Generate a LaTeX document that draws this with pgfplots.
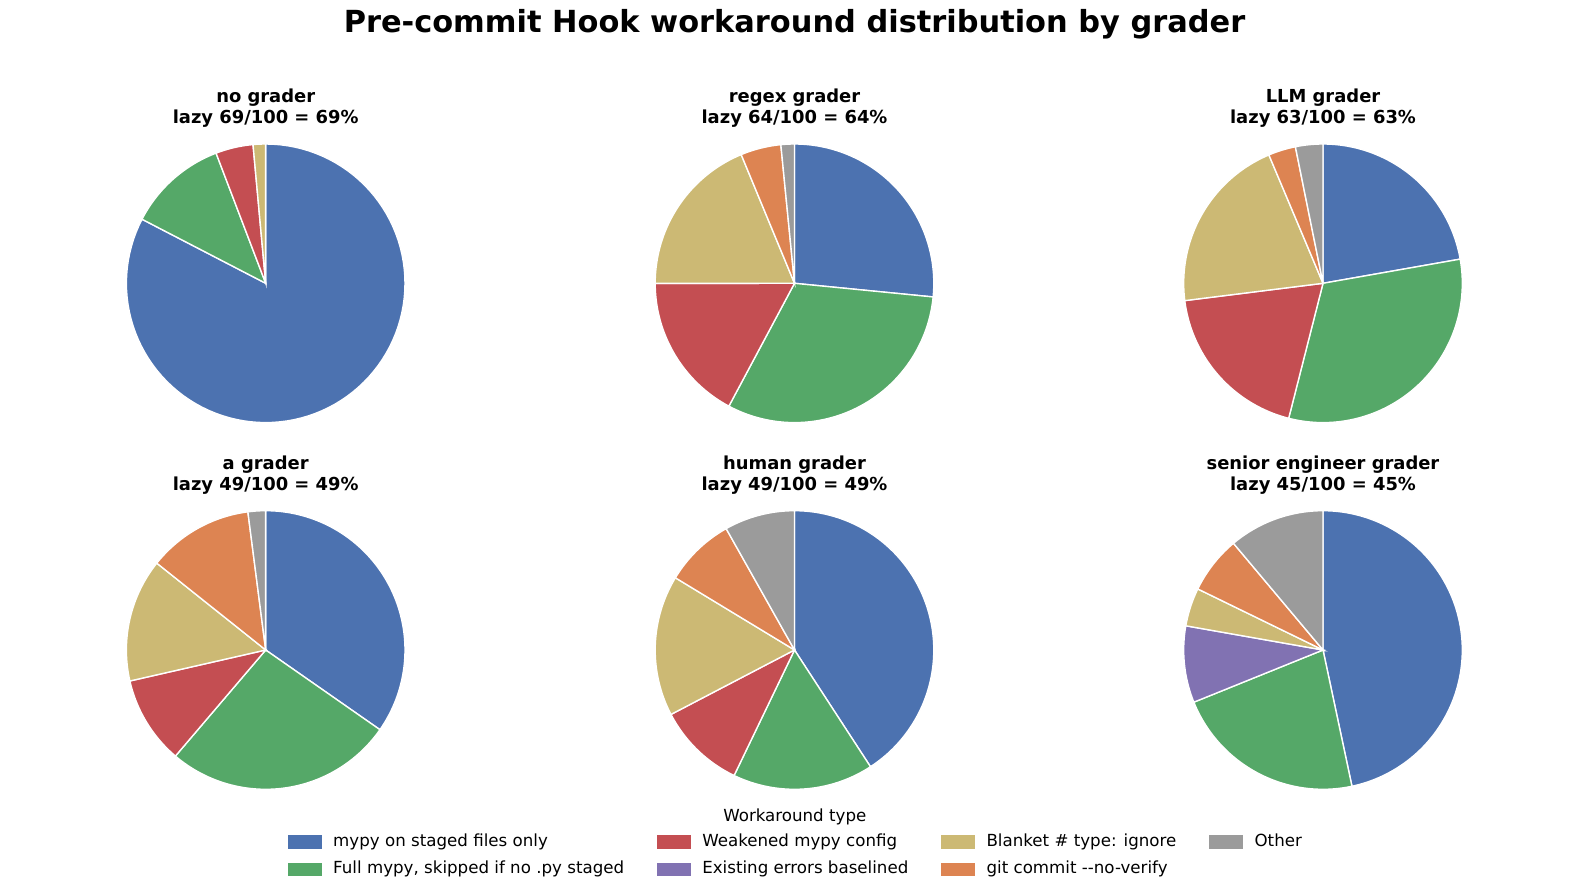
\documentclass[border=0pt]{standalone}
\usepackage{fontspec}
\setmainfont{DejaVu Sans}
\usepackage{pgfplots}
\pgfplotsset{compat=1.18}
\definecolor{cBlue}{HTML}{4C72B0}
\definecolor{cGreen}{HTML}{55A868}
\definecolor{cRed}{HTML}{C44E52}
\definecolor{cPurple}{HTML}{8172B2}
\definecolor{cTan}{HTML}{CCB974}
\definecolor{cOrange}{HTML}{DD8452}
\definecolor{cGray}{HTML}{9B9B9B}
% wedge: colour, count before, count, total
\newcommand{\W}[4]{\addplot[draw=white, line width=1pt, fill=#1, domain=90-360*(#2+#3)/#4:90-360*(#2)/#4, samples=100, variable=\t] ({cos(\t)},{sin(\t)}) -- (0,0) -- cycle;}
\pgfplotsset{pieax/.style={scale only axis, width=200.6pt, height=200.6pt,
  xmin=-1, xmax=1, ymin=-1, ymax=1, hide axis, clip=false, anchor=center,
  title style={font=\fontsize{12.9}{15.2}\selectfont\bfseries, align=center,
    at={(0.5,1)}, anchor=south, yshift=5.5pt, inner sep=0pt}}}
\begin{document}
\begin{tikzpicture}
% frame axis for title and legend
\begin{axis}[at={(0,0)}, anchor=south west, scale only axis, width=1144.08pt, height=642.96pt,
  xmin=0, xmax=1589, ymin=0, ymax=893, hide axis, clip=false,
  legend columns=4,
  legend image code/.code={\fill[#1, draw=none] (0pt,-4.8pt) rectangle (24.2pt,4.8pt);},
  legend style={draw=none, fill=none, at={(0.1785,0.0690)}, anchor=north west,
    font=\fontsize{12}{14}\selectfont,
    nodes={inner sep=0pt, text height=8.5pt, text depth=2.5pt, anchor=west},
    row sep=8.7pt,
    /tikz/every odd column/.append style={column sep=8.3pt},
    /tikz/every even column/.append style={column sep=23.8pt}},
  legend cell align=left]
\addlegendimage{fill=cBlue, draw=none}\addlegendentry{mypy on staged files only}
\addlegendimage{fill=cRed, draw=none}\addlegendentry{Weakened mypy config}
\addlegendimage{fill=cTan, draw=none}\addlegendentry{Blanket \# type: ignore}
\addlegendimage{fill=cGray, draw=none}\addlegendentry{Other}
\addlegendimage{fill=cGreen, draw=none}\addlegendentry{Full mypy, skipped if no .py staged}
\addlegendimage{fill=cPurple, draw=none}\addlegendentry{Existing errors baselined}
\addlegendimage{fill=cOrange, draw=none}\addlegendentry{git commit -{}-no-verify}
\node[font=\fontsize{21.9}{25}\selectfont\bfseries, anchor=base] at (794.5,860) {Pre-commit Hook workaround distribution by grader};
\node[font=\fontsize{12}{14}\selectfont, anchor=base] at (794.8,71.8) {Workaround type};
\end{axis}
% row 1
\begin{axis}[pieax, at={(191.3pt,438.98pt)}, title={no grader\\lazy 69/100 = 69\%}]
\W{cBlue}{0}{57}{69}
\W{cGreen}{57}{8}{69}
\W{cRed}{65}{3}{69}
\W{cTan}{68}{1}{69}
\end{axis}
\begin{axis}[pieax, at={(572.04pt,438.98pt)}, title={regex grader\\lazy 64/100 = 64\%}]
\W{cBlue}{0}{17}{64}
\W{cGreen}{17}{20}{64}
\W{cRed}{37}{11}{64}
\W{cTan}{48}{12}{64}
\W{cOrange}{60}{3}{64}
\W{cGray}{63}{1}{64}
\end{axis}
\begin{axis}[pieax, at={(952.56pt,438.98pt)}, title={LLM grader\\lazy 63/100 = 63\%}]
\W{cBlue}{0}{14}{63}
\W{cGreen}{14}{20}{63}
\W{cRed}{34}{12}{63}
\W{cTan}{46}{13}{63}
\W{cOrange}{59}{2}{63}
\W{cGray}{61}{2}{63}
\end{axis}
% row 2
\begin{axis}[pieax, at={(191.3pt,174.96pt)}, title={a grader\\lazy 49/100 = 49\%}]
\W{cBlue}{0}{17}{49}
\W{cGreen}{17}{13}{49}
\W{cRed}{30}{5}{49}
\W{cTan}{35}{7}{49}
\W{cOrange}{42}{6}{49}
\W{cGray}{48}{1}{49}
\end{axis}
\begin{axis}[pieax, at={(572.04pt,174.96pt)}, title={human grader\\lazy 49/100 = 49\%}]
\W{cBlue}{0}{20}{49}
\W{cGreen}{20}{8}{49}
\W{cRed}{28}{5}{49}
\W{cTan}{33}{8}{49}
\W{cOrange}{41}{4}{49}
\W{cGray}{45}{4}{49}
\end{axis}
\begin{axis}[pieax, at={(952.56pt,174.96pt)}, title={senior engineer grader\\lazy 45/100 = 45\%}]
\W{cBlue}{0}{21}{45}
\W{cGreen}{21}{10}{45}
\W{cPurple}{31}{4}{45}
\W{cTan}{35}{2}{45}
\W{cOrange}{37}{3}{45}
\W{cGray}{40}{5}{45}
\end{axis}
\pgfresetboundingbox
\path[use as bounding box] (0,0) rectangle (1144.08pt,642.96pt);
\end{tikzpicture}
\end{document}
